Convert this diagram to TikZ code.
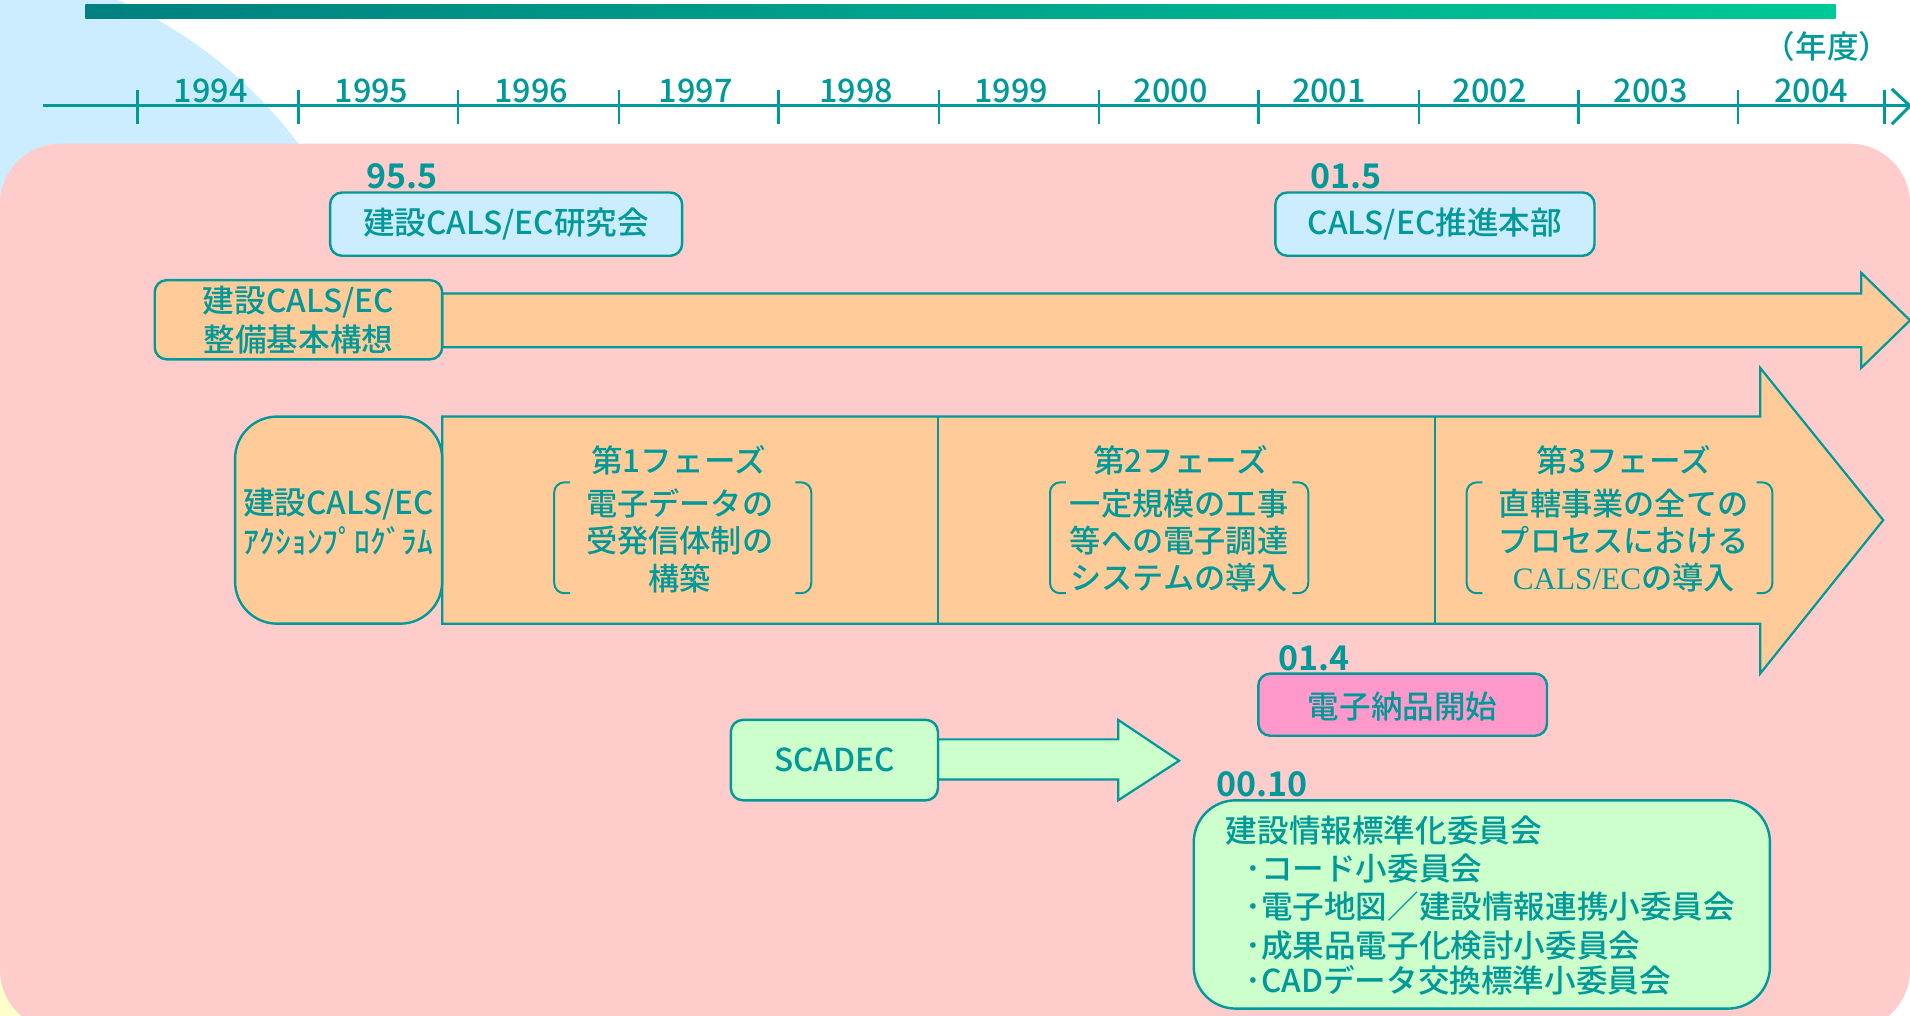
\documentclass[tikz,border=0pt]{standalone}
\usepackage{fontspec}
\setmainfont{Noto Sans CJK JP}[UprightFont={* Medium}, BoldFont={* Bold}]
\newfontfamily\tmsfont{Liberation Serif}
\usetikzlibrary{fit}
\definecolor{tealc}{HTML}{009999}
\definecolor{barL}{RGB}{0,128,128}
\definecolor{barR}{RGB}{0,200,150}
\definecolor{lblue}{HTML}{CCECFF}
\definecolor{pinkbg}{HTML}{FFCCCC}
\definecolor{orangef}{HTML}{FFCC99}
\definecolor{pinkbox}{HTML}{FF99CC}
\definecolor{greenf}{HTML}{CCFFCC}
\definecolor{yellowf}{HTML}{FFFFCC}
\tikzset{
  txt/.style={text=tealc, font=\fontsize{15.8}{19.5}\selectfont, inner sep=0pt, align=center},
  bodytxt/.style={text=tealc, font=\fontsize{15.6}{18.6}\selectfont, inner sep=0pt, align=center},
  datelbl/.style={text=tealc, font=\fontsize{17}{20}\selectfont\bfseries, inner sep=0pt},
  yearlbl/.style={text=tealc, font=\fontsize{16.2}{19}\selectfont, inner sep=0pt},
  boxs/.style={draw=tealc, line width=1.2pt, rounded corners=6pt, inner sep=0pt},
  blockarrow/.style={draw=tealc, line width=1.1pt, line join=miter},
  brk/.style={draw=tealc, line width=1pt, rounded corners=5pt},
  axisline/.style={draw=tealc, line width=1.5pt},
  tickline/.style={draw=tealc, line width=1.2pt},
}
\begin{document}
\begin{tikzpicture}[x=0.60906pt,y=-0.60906pt]
\useasboundingbox (0,0) rectangle (1568,834);
\clip (0,0) rectangle (1568,834);
\fill[white] (0,0) rectangle (1568,834);
% background decorations
\fill[lblue] (-55,343) circle [radius=375];
\fill[yellowf] (0,834) circle [radius=110];
\fill[pinkbg, rounded corners=30pt] (0,118) rectangle (1568,845.6);
% top bar
\shade[left color=barL, right color=barR] (70,4) rectangle (1507,15.5);
% timeline axis
\coordinate (axL) at (35,87);
\coordinate (axR) at (1566,87);
\draw[axisline] (axL) -- (axR);
\draw[axisline, line join=miter] (1553,73) -- (1568,87) -- (1553,102);
\foreach \tx in {113,245,376,508,639,771,902,1033,1165,1296,1427,1547}
  \draw[tickline] (\tx,74) -- (\tx,102);
\foreach \yx/\yr in {173/1994,305/1995,436/1996,571/1997,703/1998,830/1999,961/2000,1091/2001,1223/2002,1355/2003,1487/2004}
  \node[yearlbl] (yr\yr) at (\yx,75) {\yr};
\node[txt] (nendo) at (1500,38.5) {（年度）};
% dates
\node[datelbl] (d955) at (330,145) {95.5};
\node[datelbl] (d015) at (1105,145) {01.5};
\node[datelbl] (d014) at (1079,540) {01.4};
\node[datelbl] (d0010) at (1036,644) {00.10};
% top boxes
\node[boxs, fill=lblue, fit={(271,158) (560,210)}] (kenkyu) {};
\node[txt] (kenkyuT) at (kenkyu.center) {建設CALS/EC研究会};
\node[boxs, fill=lblue, fit={(1047,158) (1309,210)}] (honbu) {};
\node[txt] (honbuT) at (honbu.center) {CALS/EC推進本部};
% arrow A
\draw[blockarrow, fill=orangef] (363,241) -- (1528,241) -- (1528,224) -- (1568,263) -- (1528,302) -- (1528,285) -- (363,285) -- cycle;
\node[boxs, fill=orangef, fit={(127,230) (363,295)}] (kousou) {};
\node[txt] (kousouT) at (kousou.center) {建設CALS/EC\\整備基本構想};
% arrow B
\draw[blockarrow, fill=orangef] (363,342) -- (1445,342) -- (1445,302) -- (1546,427) -- (1445,553) -- (1445,512) -- (363,512) -- cycle;
\draw[blockarrow] (770,342) -- (770,512);
\draw[blockarrow] (1178,342) -- (1178,512);
\node[boxs, rounded corners=21pt, fill=orangef, fit={(193,342) (363,512)}] (action) {};
\node[txt] (actionT) at ([yshift=-0.6pt]action.center) {建設CALS/EC\\ｱｸｼｮﾝﾌﾟﾛｸﾞﾗﾑ};
% phases
\node[txt] (ph1) at (557,378) {第1フェーズ};
\node[bodytxt] (ph1b) at (558,444) {電子データの\\受発信体制の\\構築};
\node[txt] (ph2) at (969,378) {第2フェーズ};
\node[bodytxt] (ph2b) at (968,444) {一定規模の工事\\等への電子調達\\システムの導入};
\node[txt] (ph3) at (1333,378) {第3フェーズ};
\node[bodytxt] (ph3b) at (1333,444) {直轄事業の全ての\\プロセスにおける\\{\tmsfont CALS/EC}の導入};
\foreach \bl/\br in {455/666,862/1074,1204/1455}{
  \draw[brk] (\bl+13,396) -- (\bl,396) -- (\bl,487) -- (\bl+13,487);
  \draw[brk] (\br-13,396) -- (\br,396) -- (\br,487) -- (\br-13,487);
}
% e-delivery
\node[boxs, fill=pinkbox, fit={(1033,553) (1270,604)}] (nouhin) {};
\node[txt] (nouhinT) at ([yshift=-0.8pt]nouhin.center) {電子納品開始};
% SCADEC
\draw[blockarrow, fill=greenf] (770,607) -- (918,607) -- (918,591) -- (968,624.5) -- (918,657) -- (918,640) -- (770,640) -- cycle;
\node[boxs, fill=greenf, fit={(600,591) (770,657)}] (scadec) {};
\node[txt] (scadecT) at (scadec.center) {SCADEC};
% committee box
\node[boxs, rounded corners=21pt, fill=greenf, fit={(980,657) (1453,828)}] (iinkai) {};
\node[txt, anchor=west] (c0) at (1006,682) {建設情報標準化委員会};
\node[txt, anchor=west] (c1) at (1022,713) {･コード小委員会};
\node[txt, anchor=west] (c2) at (1022,744) {･電子地図／建設情報連携小委員会};
\node[txt, anchor=west] (c3) at (1022,776) {･成果品電子化検討小委員会};
\node[txt, anchor=west] (c4) at (1022,805) {･CADデータ交換標準小委員会};
\end{tikzpicture}
\end{document}
